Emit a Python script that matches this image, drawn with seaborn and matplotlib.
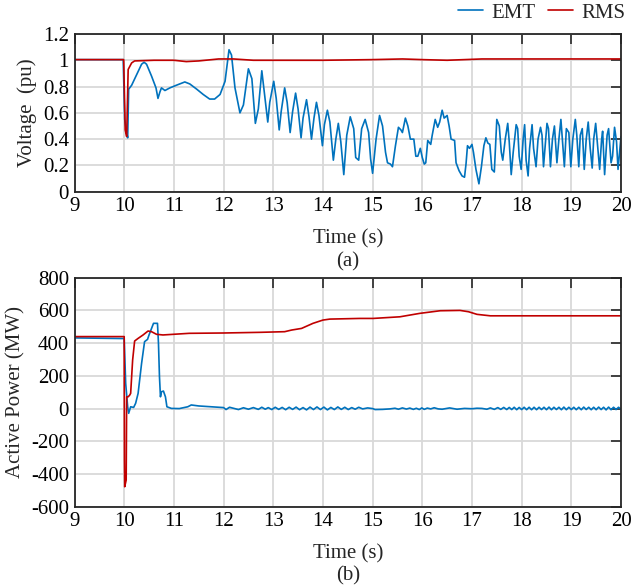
import matplotlib
matplotlib.use("Agg")
import matplotlib.pyplot as plt
import matplotlib.ticker as ticker
from matplotlib.lines import Line2D
import numpy as np
import pandas as pd
import seaborn as sns

# ---- data ----
# (a) bus voltage, pu
v_emt_t = [9.0, 9.98, 10.01, 10.05, 10.07, 10.09, 10.15, 10.25, 10.35, 10.40, 10.45, 10.55,
           10.64, 10.68, 10.72, 10.75, 10.82, 10.92, 11.05, 11.22, 11.32, 11.46, 11.59, 11.72,
           11.82, 11.93, 12.03, 12.11, 12.16, 12.23, 12.33, 12.40, 12.50, 12.57, 12.64, 12.70,
           12.77, 12.82, 12.89, 12.93, 13.01, 13.06, 13.12, 13.16, 13.23, 13.28, 13.34, 13.39,
           13.45, 13.50, 13.56, 13.60, 13.67, 13.72, 13.77, 13.82, 13.87, 13.92, 13.99, 14.03,
           14.09, 14.14, 14.21, 14.26, 14.31, 14.36, 14.42, 14.48, 14.55, 14.62, 14.66, 14.72,
           14.78, 14.85, 14.92, 14.96, 15.00, 15.07, 15.14, 15.20, 15.26, 15.30, 15.36, 15.40,
           15.46, 15.52, 15.57, 15.60, 15.66, 15.71, 15.76, 15.83, 15.87, 15.91, 15.96, 16.00,
           16.04, 16.07, 16.11, 16.17, 16.20, 16.26, 16.31, 16.35, 16.40, 16.44, 16.50, 16.54,
           16.58, 16.65, 16.68, 16.74, 16.80, 16.85, 16.88, 16.91, 16.95, 17.00, 17.03, 17.08,
           17.14, 17.19, 17.24, 17.28, 17.32, 17.36, 17.40, 17.45, 17.50, 17.55, 17.59, 17.62,
           17.67, 17.72, 17.75, 17.79, 17.83, 17.89, 17.92, 17.95, 17.99, 18.03, 18.06, 18.09,
           18.13, 18.16, 18.21, 18.24, 18.29, 18.33, 18.38, 18.41, 18.44, 18.48, 18.51, 18.54,
           18.58, 18.62, 18.66, 18.71, 18.75, 18.79, 18.82, 18.86, 18.90, 18.95, 18.99, 19.03,
           19.08, 19.11, 19.15, 19.18, 19.22, 19.26, 19.30, 19.34, 19.38, 19.42, 19.45, 19.49,
           19.54, 19.57, 19.61, 19.63, 19.67, 19.72, 19.75, 19.80, 19.83, 19.87, 19.91, 19.94,
           20.00]
v_emt = [1.005, 1.005, 0.55, 0.45, 0.41, 0.78, 0.81, 0.89, 0.97, 0.985, 0.97, 0.88,
         0.79, 0.71, 0.76, 0.79, 0.77, 0.79, 0.81, 0.835, 0.82, 0.78, 0.74, 0.705,
         0.705, 0.74, 0.84, 1.08, 1.04, 0.79, 0.60, 0.66, 0.935, 0.86, 0.52, 0.63,
         0.92, 0.76, 0.53, 0.68, 0.84, 0.71, 0.47, 0.61, 0.79, 0.68, 0.45, 0.61,
         0.75, 0.63, 0.41, 0.56, 0.70, 0.57, 0.40, 0.56, 0.68, 0.58, 0.35, 0.51,
         0.62, 0.53, 0.24, 0.40, 0.52, 0.38, 0.13, 0.43, 0.57, 0.48, 0.26, 0.24,
         0.48, 0.55, 0.45, 0.25, 0.14, 0.40, 0.58, 0.50, 0.30, 0.22, 0.21, 0.19,
         0.35, 0.49, 0.47, 0.45, 0.56, 0.50, 0.40, 0.40, 0.27, 0.27, 0.33, 0.26,
         0.21, 0.22, 0.39, 0.36, 0.43, 0.55, 0.49, 0.53, 0.62, 0.56, 0.58, 0.50,
         0.40, 0.39, 0.22, 0.16, 0.12, 0.11, 0.21, 0.35, 0.33, 0.36, 0.30, 0.17,
         0.06, 0.19, 0.35, 0.41, 0.37, 0.36, 0.17, 0.15, 0.55, 0.50, 0.30, 0.24,
         0.40, 0.52, 0.38, 0.13, 0.30, 0.51, 0.48, 0.27, 0.17, 0.40, 0.51, 0.24,
         0.12, 0.33, 0.51, 0.33, 0.19, 0.40, 0.49, 0.43, 0.19, 0.38, 0.52, 0.48,
         0.19, 0.40, 0.50, 0.22, 0.40, 0.55, 0.40, 0.19, 0.48, 0.45, 0.19, 0.40,
         0.55, 0.43, 0.19, 0.43, 0.48, 0.17, 0.40, 0.53, 0.33, 0.18, 0.40, 0.52,
         0.30, 0.17, 0.40, 0.46, 0.13, 0.43, 0.48, 0.22, 0.27, 0.49, 0.38, 0.17,
         0.42]

v_rms_t = [9.0, 9.99, 10.02, 10.05, 10.08, 10.15, 10.21, 10.6, 11.0, 11.25, 11.5, 11.9,
           12.2, 12.6, 14.0, 15.0, 15.6, 16.0, 16.5, 17.2, 20.0]
v_rms = [1.005, 1.005, 0.47, 0.42, 0.93, 0.98, 0.995, 1.0, 1.0, 0.99, 0.995, 1.01,
         1.01, 1.0, 1.0, 1.005, 1.01, 1.005, 1.0, 1.01, 1.01]

# (b) active power, MW
p_emt_t = [9.0, 10.0, 10.03, 10.07, 10.09, 10.13, 10.19, 10.23, 10.28, 10.35, 10.41, 10.47,
           10.50, 10.55, 10.59, 10.67, 10.69, 10.71, 10.73, 10.75, 10.79, 10.83, 10.86, 10.95,
           11.11, 11.28, 11.35, 11.5, 11.7, 11.9, 12.0, 12.05, 12.12, 12.2,
           12.3, 12.4, 12.5, 12.6, 12.7, 12.77, 12.84, 12.9, 12.97, 13.04, 13.11, 13.18,
           13.25, 13.32, 13.39, 13.46, 13.53, 13.6, 13.67, 13.74, 13.81, 13.88, 13.95, 14.02,
           14.09, 14.16, 14.23, 14.3, 14.37, 14.44, 14.51, 14.58, 14.65, 14.72, 14.8, 14.9,
           15.0, 15.05, 15.2, 15.35, 15.45, 15.52, 15.6, 15.68, 15.75, 15.82, 15.88, 15.94,
           15.99, 16.04, 16.1, 16.17, 16.24, 16.32, 16.4, 16.55, 16.7, 16.85, 17.0, 17.1,
           17.2, 17.3, 17.37, 17.45, 17.52, 17.58, 17.64, 17.7, 17.75, 17.8, 17.85, 17.9,
           17.95, 18.0, 18.05, 18.1, 18.15, 18.2, 18.25, 18.3, 18.35, 18.4, 18.45, 18.5,
           18.55, 18.6, 18.65, 18.7, 18.75, 18.8, 18.85, 18.9, 18.95, 19.0, 19.05, 19.1,
           19.15, 19.2, 19.25, 19.3, 19.35, 19.4, 19.45, 19.5, 19.55, 19.6, 19.65, 19.7,
           19.75, 19.8, 19.85, 19.9, 19.95, 20.0]
p_emt = [432, 428, 154, 11, -29, 11, 7, 32, 93, 276, 409, 423,
         450, 490, 521, 521, 398, 195, 72, 103, 107, 72, 11, 1,
         0, 11, 22, 16, 12, 8, 6, -6, 8, 2,
         -6, 5, -4, 6, -5, 8, -4, 6, -6, 8, -5, 7,
         -7, 8, -5, 9, -7, 6, -8, 9, -6, 10, -6, 9,
         -8, 7, -6, 10, -5, 8, -6, 6, -4, 8, -2, 4,
         0, -6, -5, -2, 2, -4, 4, -3, 3, -5, 2, -6,
         4, -5, 3, -2, 5, -2, -4, 4, -4, 1, -1, 2,
         1, -4, 4, -5, 6, -5, 7, -6, 7, -6, 8, -7,
         7, -6, 8, -7, 8, -7, 8, -7, 8, -6, 8, -7,
         9, -7, 8, -6, 8, -7, 9, -7, 8, -6, 8, -7,
         8, -7, 9, -6, 8, -7, 8, -7, 9, -6, 8, -8,
         9, -7, 8, -6, 8, -4]

p_rms_t = [9.0, 10.0, 10.005, 10.01, 10.04, 10.05, 10.08, 10.11, 10.13, 10.17, 10.21, 10.28,
           10.38, 10.48, 10.55, 10.65, 10.78, 11.31, 12.0, 12.73, 13.23, 13.37, 13.57, 13.8,
           14.0, 14.14, 14.74, 15.01, 15.55, 15.95, 16.36, 16.76, 16.93, 17.1, 17.37, 20.0]
p_rms = [440, 440, -315, -478, -437, 72, 72, 82, 93, 297, 413, 429,
         450, 474, 470, 454, 450, 460, 462, 466, 470, 480, 490, 521,
         541, 547, 551, 551, 561, 582, 598, 600, 592, 576, 567, 567]

x_ticks = list(range(9, 21))
v_ticks = [0, 0.2, 0.4, 0.6, 0.8, 1.0, 1.2]
p_ticks = [-600, -400, -200, 0, 200, 400, 600, 800]

EMT_COLOR = "#0072BD"
RMS_COLOR = "#C00000"


def style_axes(ax, yticks):
  ax.set_xlim(9, 20)
  ax.set_ylim(yticks[0], yticks[-1])
  ax.set_xticks(x_ticks)
  ax.set_yticks(yticks)
  ax.yaxis.set_major_formatter(ticker.FuncFormatter(lambda v, _: f"{v:g}"))
  ax.grid(True, color="#d9d9d9", linewidth=1.3)
  ax.set_axisbelow(True)
  ax.tick_params(direction="in", length=7, width=1.2, top=True, right=True,
                 labelsize=15, pad=4, colors="#262626", labelcolor="black")
  for sp in ax.spines.values():
    sp.set_color("#262626")
    sp.set_linewidth(1.3)
  ax.set_xlabel("Time (s)", fontsize=15, labelpad=9)


def main():
  sns.set_style("whitegrid")
  plt.rcParams["font.family"] = ["Liberation Serif", "DejaVu Serif"]
  plt.rcParams["lines.solid_joinstyle"] = "round"

  fig = plt.figure(figsize=(6.44, 5.85), dpi=100)
  ax1 = fig.add_axes([0.1157, 0.6723, 0.8486, 0.2696])
  ax2 = fig.add_axes([0.1157, 0.1338, 0.8486, 0.3915])

  df_v_emt = pd.DataFrame({"t": v_emt_t, "v": v_emt})
  df_v_rms = pd.DataFrame({"t": v_rms_t, "v": v_rms})
  sns.lineplot(data=df_v_emt, x="t", y="v", ax=ax1, color=EMT_COLOR, linewidth=1.2,
               sort=False, estimator=None)
  sns.lineplot(data=df_v_rms, x="t", y="v", ax=ax1, color=RMS_COLOR, linewidth=1.2,
               sort=False, estimator=None)
  style_axes(ax1, v_ticks)
  ax1.set_ylabel("Voltage  (pu)", fontsize=15, labelpad=4)

  df_p_emt = pd.DataFrame({"t": p_emt_t, "p": p_emt})
  df_p_rms = pd.DataFrame({"t": p_rms_t, "p": p_rms})
  sns.lineplot(data=df_p_emt, x="t", y="p", ax=ax2, color=EMT_COLOR, linewidth=1.2,
               sort=False, estimator=None)
  sns.lineplot(data=df_p_rms, x="t", y="p", ax=ax2, color=RMS_COLOR, linewidth=1.2,
               sort=False, estimator=None)
  style_axes(ax2, p_ticks)
  ax2.set_ylabel("Active Power (MW)", fontsize=15, labelpad=4)

  fig.text(0.5 * (0.1157 + 0.9643), 1 - 262 / 585, "(a)", fontsize=15, ha="center", va="center")
  fig.text(0.5 * (0.1157 + 0.9643), 1 - 576 / 585, "(b)", fontsize=15, ha="center", va="center")

  handles = [Line2D([], [], color=EMT_COLOR, lw=1.2), Line2D([], [], color=RMS_COLOR, lw=1.2)]
  fig.legend(handles, ["EMT", "RMS"], loc="center right", bbox_to_anchor=(625 / 644, 1 - 13 / 585),
             ncol=2, frameon=False, fontsize=15, handlelength=1.2, handletextpad=0.4,
             columnspacing=0.6, borderpad=0, borderaxespad=0)

  fig.savefig("out.png", dpi=100)
  plt.close(fig)


if __name__ == "__main__":
  main()
